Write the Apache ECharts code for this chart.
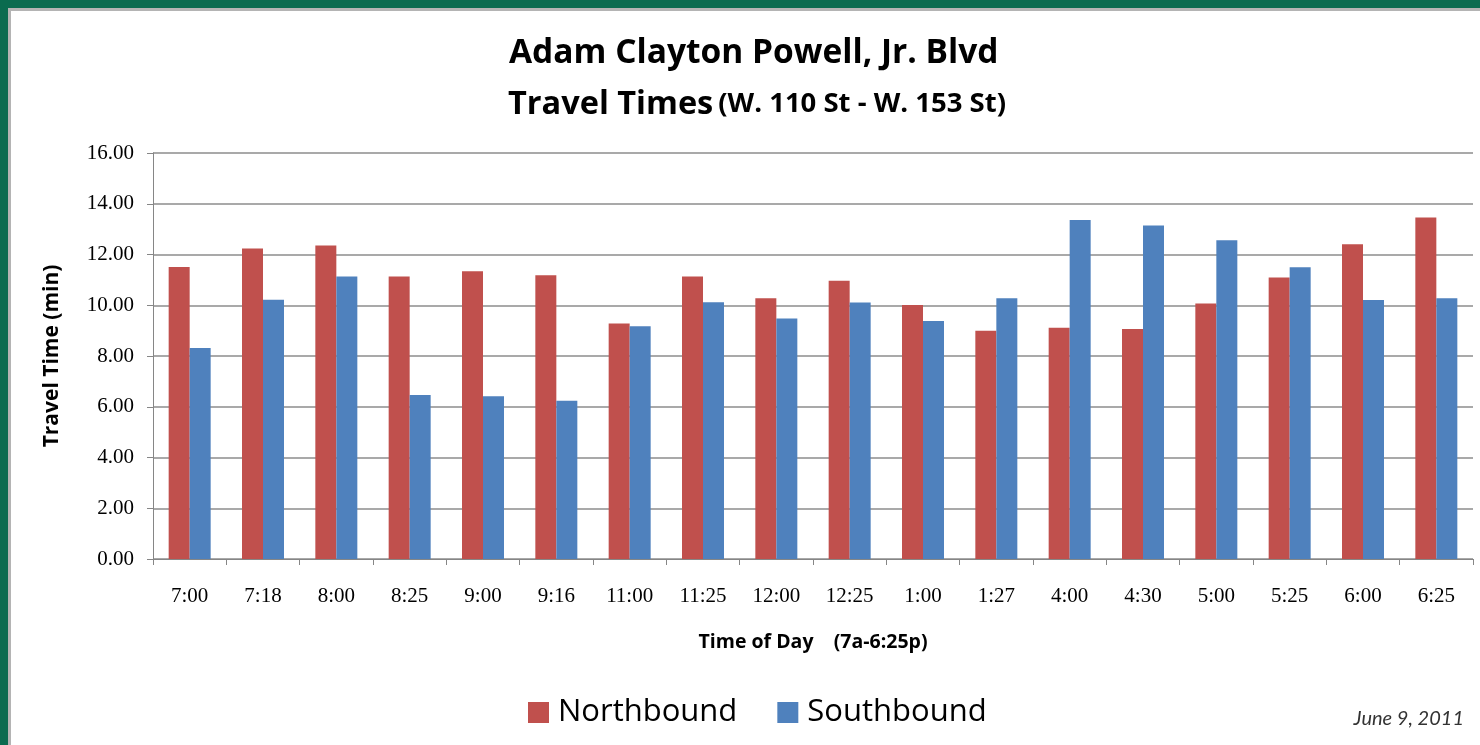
<!DOCTYPE html>
<html>
<head>
<meta charset="utf-8">
<script src="https://cdn.jsdelivr.net/npm/echarts@6/dist/echarts.min.js"></script>
<style>
  html, body { margin: 0; padding: 0; width: 1480px; height: 745px; background: #0a6b4f; overflow: hidden; }
  #frame { position: absolute; left: 8px; top: 8px; right: 0; bottom: 0; background: #ffffff; border-left: 3px solid #b4b4b4; border-top: 3px solid #b4b4b4; }
  #chart { position: absolute; left: 0; top: 0; width: 1480px; height: 745px; }
</style>
</head>
<body>
<div id="frame"></div>
<div id="chart"></div>
<script>
const categories = ['7:00','7:18','8:00','8:25','9:00','9:16','11:00','11:25','12:00','12:25','1:00','1:27','4:00','4:30','5:00','5:25','6:00','6:25'];
const northbound = [11.51, 12.24, 12.35, 11.13, 11.34, 11.18, 9.28, 11.13, 10.28, 10.97, 10.01, 9.00, 9.11, 9.06, 10.07, 11.09, 12.40, 13.46];
const southbound = [8.32, 10.22, 11.13, 6.46, 6.41, 6.24, 9.17, 10.12, 9.48, 10.11, 9.38, 10.28, 13.36, 13.14, 12.56, 11.50, 10.21, 10.28];
const yTicks = { min: 0, max: 16, interval: 2 };

const chart = echarts.init(document.getElementById('chart'), null, { renderer: 'canvas' });
const sans = '"Open Sans", Lato, sans-serif';
const serif = '"Liberation Serif", "DejaVu Serif", serif';
chart.setOption({
  backgroundColor: 'transparent',
  animation: false,
  title: [
    { text: 'Adam Clayton Powell, Jr. Blvd', left: 504, top: 31,
      textStyle: { fontFamily: sans, fontSize: 33.5, fontWeight: 'bold', color: '#000' } },
    { text: '{a|Travel Times} {b|(W. 110 St - W. 153 St)}', left: 503, top: 83,
      textStyle: { rich: {
        a: { fontFamily: sans, fontSize: 32.5, fontWeight: 'bold', color: '#000' },
        b: { fontFamily: sans, fontSize: 27.5, fontWeight: 'bold', color: '#000' } } } }
  ],
  legend: {
    data: ['Northbound', 'Southbound'], left: 523, top: 692,
    itemWidth: 21, itemHeight: 21, itemGap: 40,
    textStyle: { fontFamily: sans, fontSize: 31, color: '#000', padding: [0, 0, 0, 4] },
    icon: 'rect'
  },
  graphic: [
    { type: 'text', right: 16, top: 709, style: { text: 'June 9, 2011', font: 'italic 20px Lato, sans-serif', fill: '#333' } }
  ],
  grid: { left: 153, right: 7, top: 153, bottom: 186, containLabel: false },
  xAxis: {
    type: 'category', data: categories,
    name: 'Time of Day    (7a-6:25p)', nameLocation: 'middle', nameGap: 73,
    nameTextStyle: { fontFamily: sans, fontSize: 19.5, fontWeight: 'bold', color: '#000' },
    axisLine: { lineStyle: { color: '#868686', width: 1 } },
    axisTick: { show: true, length: 6, lineStyle: { color: '#868686' } },
    axisLabel: { fontFamily: serif, fontSize: 21, color: '#000', margin: 27 }
  },
  yAxis: {
    type: 'value', min: yTicks.min, max: yTicks.max, interval: yTicks.interval,
    name: 'Travel Time (min)', nameLocation: 'middle', nameGap: 90, nameRotate: 90,
    nameTextStyle: { fontFamily: sans, fontSize: 21, fontWeight: 'bold', color: '#000' },
    axisLine: { show: true, lineStyle: { color: '#868686', width: 1 } },
    axisTick: { show: true, length: 6, lineStyle: { color: '#868686' } },
    splitLine: { lineStyle: { color: '#8c8c8c', width: 1.5 } },
    axisLabel: { fontFamily: serif, fontSize: 21, color: '#000', margin: 19,
      formatter: v => v.toFixed(2) }
  },
  series: [
    { name: 'Northbound', type: 'bar', data: northbound, barWidth: 21, barGap: '0%',
      itemStyle: { color: '#C0504D' } },
    { name: 'Southbound', type: 'bar', data: southbound, barWidth: 21, barGap: '0%',
      itemStyle: { color: '#4F81BD' } }
  ]
});
</script>
</body>
</html>
